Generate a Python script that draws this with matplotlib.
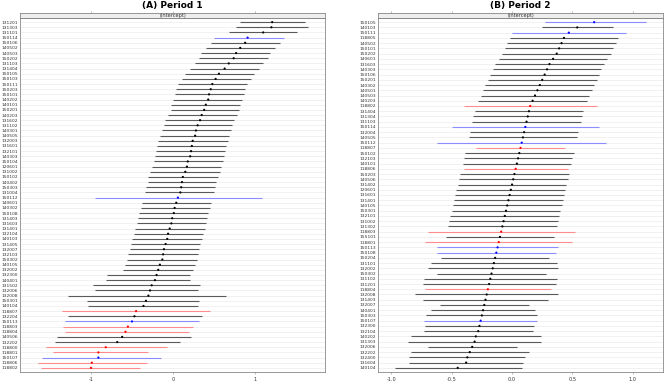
import numpy as np
import matplotlib.pyplot as plt

# Panel A: random intercepts, period 1 (top row first)
labels_a = ["131201", "131303", "131101", "150114", "150106", "140502", "140503", "150202",
            "131103", "131404", "150105", "150103", "150111", "150203", "150101", "140202",
            "140101", "150201", "140203", "131602", "131102", "140301", "140505", "132003",
            "131601", "132101", "140303", "150104", "120601", "131002", "150102", "140402",
            "150303", "131004", "150112", "140601", "140302", "150108", "131403", "131603",
            "131401", "132104", "140103", "131405", "132007", "132103", "150302", "140105",
            "132002", "132300", "140401", "131502", "132006", "132008", "150301", "140104",
            "118807", "132204", "150113", "118803", "118804", "140506", "132202", "118800",
            "118801", "150107", "118806", "118802"]
est_a = [1.21, 1.20, 1.10, 0.91, 0.88, 0.82, 0.77, 0.74, 0.68, 0.63, 0.56, 0.52, 0.48, 0.46,
         0.44, 0.43, 0.40, 0.38, 0.35, 0.33, 0.30, 0.28, 0.27, 0.24, 0.23, 0.22, 0.21, 0.18,
         0.17, 0.15, 0.12, 0.11, 0.10, 0.09, 0.06, 0.04, 0.02, 0.01, -0.01, -0.02, -0.04, -0.06,
         -0.07, -0.09, -0.11, -0.12, -0.13, -0.16, -0.18, -0.20, -0.22, -0.26, -0.28, -0.30,
         -0.33, -0.36, -0.45, -0.47, -0.50, -0.55, -0.58, -0.62, -0.68, -0.82, -0.91, -0.91,
         -0.99, -1.00]
lo_a = [0.82, 0.77, 0.68, 0.50, 0.46, 0.40, 0.34, 0.32, 0.27, 0.21, 0.15, 0.11, 0.06, 0.04,
        0.02, 0.00, -0.02, -0.03, -0.06, -0.10, -0.11, -0.13, -0.16, -0.18, -0.19, -0.21, -0.22,
        -0.23, -0.25, -0.28, -0.30, -0.31, -0.33, -0.34, -0.95, -0.38, -0.39, -0.41, -0.43, -0.44,
        -0.46, -0.48, -0.50, -0.51, -0.53, -0.55, -0.56, -0.58, -0.61, -0.81, -0.82, -0.97, -0.95,
        -1.28, -1.05, -1.04, -1.35, -1.28, -1.32, -1.34, -1.32, -1.41, -1.44, -1.55, -1.46, -1.60,
        -1.65, -1.61]
hi_a = [1.61, 1.65, 1.51, 1.35, 1.30, 1.24, 1.18, 1.16, 1.10, 1.05, 0.99, 0.95, 0.90, 0.88,
        0.86, 0.84, 0.82, 0.80, 0.78, 0.74, 0.72, 0.71, 0.68, 0.67, 0.65, 0.64, 0.62, 0.61, 0.59,
        0.57, 0.55, 0.52, 0.51, 0.50, 1.09, 0.46, 0.45, 0.43, 0.41, 0.40, 0.39, 0.37, 0.35, 0.33,
        0.32, 0.30, 0.29, 0.27, 0.24, 0.21, 0.21, 0.33, 0.30, 0.65, 0.32, 0.30, 0.45, 0.35, 0.32,
        0.25, 0.20, 0.22, 0.09, -0.07, -0.30, -0.15, -0.32, -0.40]
col_a = ["k", "k", "k", "b", "k", "k", "k", "k", "k", "k", "k", "k", "k", "k", "k", "k",
         "k", "k", "k", "k", "k", "k", "k", "k", "k", "k", "k", "k", "k", "k", "k", "k",
         "k", "k", "b", "k", "k", "k", "k", "k", "k", "k", "k", "k", "k", "k", "k", "k",
         "k", "k", "k", "k", "k", "k", "k", "k", "r", "k", "b", "r", "r", "k", "k", "r",
         "r", "b", "r", "r"]

# Panel B: random intercepts, period 2
labels_b = ["150105", "140103", "150111", "118805", "140502", "150101", "150202", "140601",
            "131603", "140303", "150106", "150201", "140302", "140501", "140503", "140203",
            "118802", "131404", "131304", "131103", "150114", "132004", "140505", "150112",
            "118807", "150102", "132103", "140101", "118806", "150203", "140506", "131402",
            "120601", "131601", "131401", "140105", "150301", "132101", "131002", "131302",
            "118803", "155101", "118801", "150113", "150108", "150204", "131101", "132002",
            "150302", "131102", "131201", "118804", "132008", "131403", "132007", "140401",
            "150303", "150107", "132300", "132104", "140202", "131303", "132006", "132202",
            "132400", "131604", "140104"]
est_b = [0.68, 0.54, 0.47, 0.43, 0.41, 0.39, 0.37, 0.34, 0.31, 0.29, 0.27, 0.25, 0.23, 0.21,
         0.19, 0.17, 0.15, 0.14, 0.13, 0.12, 0.11, 0.10, 0.09, 0.08, 0.07, 0.06, 0.05, 0.04,
         0.03, 0.02, 0.01, 0.00, -0.01, -0.02, -0.03, -0.04, -0.05, -0.06, -0.07, -0.08, -0.09,
         -0.10, -0.11, -0.12, -0.13, -0.14, -0.15, -0.16, -0.17, -0.18, -0.19, -0.20, -0.21,
         -0.22, -0.23, -0.24, -0.25, -0.26, -0.27, -0.28, -0.30, -0.31, -0.33, -0.35, -0.37,
         -0.38, -0.45]
lo_b = [0.27, 0.25, 0.00, -0.02, -0.04, -0.06, -0.08, -0.11, -0.14, -0.16, -0.18, -0.20,
        -0.22, -0.24, -0.26, -0.28, -0.40, -0.31, -0.32, -0.33, -0.50, -0.35, -0.36, -0.62,
        -0.30, -0.39, -0.40, -0.41, -0.40, -0.43, -0.44, -0.45, -0.46, -0.47, -0.48, -0.49,
        -0.50, -0.51, -0.52, -0.53, -0.70, -0.55, -0.72, -0.62, -0.62, -0.59, -0.67, -0.70,
        -0.62, -0.73, -0.74, -0.72, -0.80, -0.74, -0.60, -0.67, -0.71, -0.73, -0.72, -0.73,
        -0.84, -0.86, -0.70, -0.84, -0.85, -0.85, -0.97]
hi_b = [1.11, 0.84, 0.94, 0.88, 0.86, 0.84, 0.82, 0.79, 0.76, 0.74, 0.72, 0.70, 0.68, 0.66,
        0.64, 0.62, 0.70, 0.59, 0.58, 0.57, 0.72, 0.55, 0.54, 0.78, 0.44, 0.51, 0.50, 0.49,
        0.46, 0.47, 0.46, 0.45, 0.44, 0.43, 0.42, 0.41, 0.40, 0.39, 0.38, 0.37, 0.52, 0.35,
        0.50, 0.38, 0.36, 0.31, 0.37, 0.38, 0.28, 0.37, 0.36, 0.32, 0.38, 0.30, 0.14, 0.19,
        0.21, 0.21, 0.18, 0.17, 0.24, 0.24, 0.04, 0.14, 0.11, 0.09, 0.08]
col_b = ["b", "k", "b", "k", "k", "k", "k", "k", "k", "k", "k", "k", "k", "k", "k", "k",
         "r", "k", "k", "k", "b", "k", "k", "b", "r", "k", "k", "k", "r", "k", "k", "k",
         "k", "k", "k", "k", "k", "k", "k", "k", "r", "k", "r", "b", "b", "k", "k", "k",
         "k", "k", "k", "r", "k", "k", "k", "k", "k", "b", "k", "k", "k", "k", "k", "k",
         "k", "k", "k"]

line_col = {"k": "#5a5a5a", "r": "#ff8c8c", "b": "#8c8cff"}
dot_col = {"k": "black", "r": "red", "b": "blue"}


def draw_panel(fig, rect, labels, est, lo, hi, cols, title, ticks, ticklabels, xlim):
    left, bottom, width, height = rect
    strip_h = 5.5 / 385
    ax = fig.add_axes([left, bottom, width, height])
    sax = fig.add_axes([left, bottom + height, width, strip_h])
    n = len(labels)
    y = np.arange(n)[::-1]
    for yy in y:
        ax.axhline(yy, color="#ececec", lw=0.5, zorder=0)
    ax.hlines(y, lo, hi, colors=[line_col[c] for c in cols], lw=0.8, zorder=2)
    ax.scatter(est, y, s=2.5, c=[dot_col[c] for c in cols], zorder=3, linewidths=0)
    ax.set_xlim(xlim)
    ax.set_ylim(-0.8, n - 0.2)
    ax.set_yticks(y)
    ax.set_yticklabels(labels, fontsize=3.2, color="#333333")
    ax.set_xticks(ticks)
    ax.set_xticklabels(ticklabels, fontsize=3.6, color="#333333")
    ax.tick_params(axis="y", length=0, pad=1.5)
    ax.tick_params(axis="x", length=1.5, width=0.4, pad=2, color="#888888")
    for s in ax.spines.values():
        s.set_color("#888888")
        s.set_linewidth(0.6)
    # strip header
    sax.set_facecolor("#eeeeee")
    sax.set_xlim(xlim)
    sax.set_xticks(ticks)
    sax.set_xticklabels([])
    sax.set_yticks([])
    sax.tick_params(axis="x", top=True, bottom=False, length=1.5, width=0.4, color="#888888")
    for s in sax.spines.values():
        s.set_color("#888888")
        s.set_linewidth(0.6)
    sax.text(0.5, 0.45, "(Intercept)", transform=sax.transAxes, ha="center", va="center",
             fontsize=3.6, color="#333333")
    fig.text(left + width / 2, 1 - 5.5 / 385, title, ha="center", va="center",
             fontsize=6.5, fontweight="bold")


fig = plt.figure(figsize=(6.69, 3.85), dpi=100)
draw_panel(fig, [20 / 669, 13 / 385, 305 / 669, 354 / 385], labels_a, est_a, lo_a, hi_a, col_a,
           "(A) Period 1", [-1, 0, 1], ["-1", "0", "1"], (-1.866, 1.854))
draw_panel(fig, [378 / 669, 13 / 385, 285 / 669, 354 / 385], labels_b, est_b, lo_b, hi_b, col_b,
           "(B) Period 2", [-1.0, -0.5, 0.0, 0.5, 1.0], ["-1.0", "-0.5", "0.0", "0.5", "1.0"],
           (-1.11, 1.25))
fig.savefig("out.png", dpi=100)
